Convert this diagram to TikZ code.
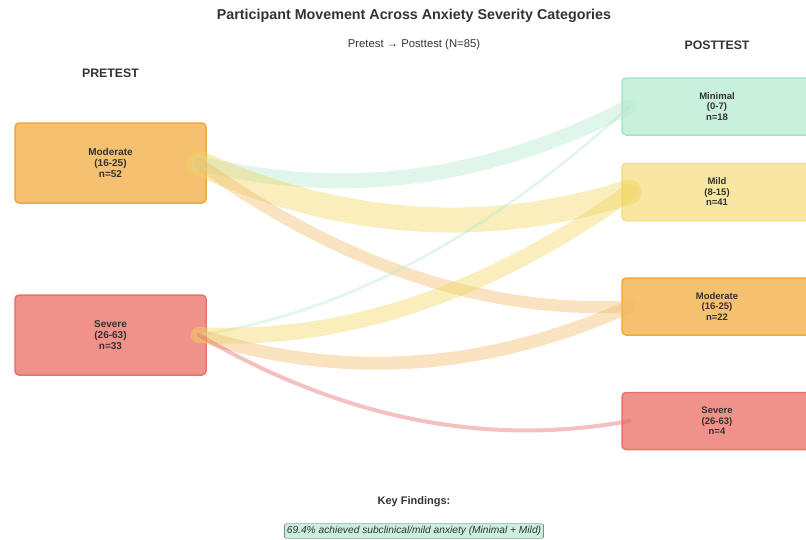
\documentclass[tikz,border=0pt]{standalone}
\usepackage{fontspec}
\setmainfont{Liberation Sans}
\usetikzlibrary{calc}
\definecolor{ink}{HTML}{333333}
\definecolor{minfill}{HTML}{C8F0DC}
\definecolor{minline}{HTML}{A6E6C6}
\definecolor{mildfill}{HTML}{F8E6A2}
\definecolor{mildline}{HTML}{F5DC85}
\definecolor{modfill}{HTML}{F5C070}
\definecolor{modline}{HTML}{F0A840}
\definecolor{sevfill}{HTML}{F0928A}
\definecolor{sevline}{HTML}{E8736A}
\definecolor{minflow}{HTML}{B5EAD0}
\definecolor{mildflow}{HTML}{F2D760}
\definecolor{modflow}{HTML}{F0BC6C}
\definecolor{sevflow}{HTML}{E86A6A}
\tikzset{
  catbox/.style={rounded corners=4pt, line width=1.5pt, text=ink,
                 align=center, inner sep=0pt},
  prebox/.style={catbox, minimum width=191pt, minimum height=80pt,
                 font=\bfseries\fontsize{10}{11.3}\selectfont},
  postbox/.style={catbox, minimum width=190pt, minimum height=57pt,
                  font=\bfseries\fontsize{9.5}{10.5}\selectfont},
  headtext/.style={text=ink, font=\bfseries\fontsize{12.3}{14}\selectfont},
  flow/.style={line cap=round, opacity=0.42}}

\begin{document}
\begin{tikzpicture}[x=1pt, y=-1pt]
  \useasboundingbox (0,0) rectangle (806,539);
  \clip (0,0) rectangle (806,539);
  \node[text=ink, font=\bfseries\fontsize{14.3}{16}\selectfont] (title) at (414,16)
    {Participant Movement Across Anxiety Severity Categories};
  \node[text=ink, font=\fontsize{11.3}{13}\selectfont] (subtitle) at (414,45)
    {Pretest → Posttest (N=85)};
  \node[headtext] (prehead) at (110.5,73) {PRETEST};
  \node[headtext] (posthead) at (717,45) {POSTTEST};

  % pretest
  \node[prebox, draw=modline, fill=modfill] (preMod) at (110.5,163)
    {Moderate\\(16-25)\\n=52};
  \node[prebox, draw=sevline, fill=sevfill] (preSev) at (110.5,335)
    {Severe\\(26-63)\\n=33};

  % posttest
  \node[postbox, draw=minline, fill=minfill] (postMin) at (717,106.5)
    {Minimal\\(0-7)\\n=18};
  \node[postbox, draw=mildline, fill=mildfill] (postMild) at (717,192)
    {Mild\\(8-15)\\n=41};
  \node[postbox, draw=modline, fill=modfill] (postMod) at (717,306.5)
    {Moderate\\(16-25)\\n=22};
  \node[postbox, draw=sevline, fill=sevfill] (postSev) at (717,421)
    {Severe\\(26-63)\\n=4};

  % flows
  \foreach \src/\dst/\w/\col in {preMod/postMin/15/minflow, preMod/postMild/25/mildflow,
      preMod/postMod/12/modflow, preSev/postMin/2.5/minflow, preSev/postMild/16/mildflow,
      preSev/postMod/13/modflow, preSev/postSev/4/sevflow}{
    \path ($(\src.east)+(-8,0)$) coordinate (s) ($(\dst.west)+(8,0)$) coordinate (t);
    \draw[flow, draw=\col, line width=\w pt] (s)
      .. controls ($(s)!0.333!(t)+(0,55)$) and ($(s)!0.667!(t)+(0,55)$) .. (t);
  }

  \node[text=ink, font=\bfseries\fontsize{11}{13}\selectfont] (keyhead) at (414,502)
    {Key Findings:};
  \node[draw=ink!85, fill=minfill, rounded corners=2pt, inner sep=2.5pt,
        text=ink, font=\itshape\fontsize{10.2}{12}\selectfont] (keynote) at (414,531)
    {69.4\% achieved subclinical/mild anxiety (Minimal + Mild)};
\end{tikzpicture}
\end{document}
